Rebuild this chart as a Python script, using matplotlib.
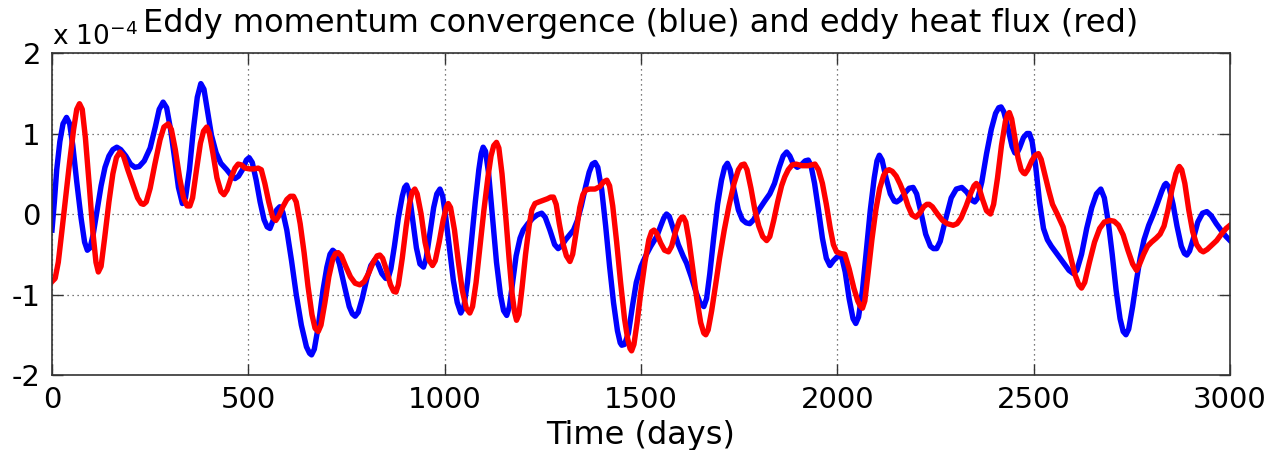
#!/usr/bin/env python3
"""Eddy momentum convergence vs eddy heat flux time series (MATLAB-style figure)."""

import matplotlib
matplotlib.use("Agg")
import matplotlib.pyplot as plt

# values in units of 1e-4
blue_days = [0, 6, 12, 20, 28, 37, 45, 53, 63, 74, 83, 90, 97, 105, 115, 125, 135, 145,
             155, 165, 175, 188, 200, 211, 222, 235, 250, 263, 273, 283, 292, 302, 312,
             322, 332, 340, 350, 360, 370, 379, 387, 396, 406, 418, 430, 445, 458, 466,
             475, 485, 495, 502, 510, 520, 530, 540, 548, 555, 563, 572, 580, 588, 598,
             610, 622, 635, 648, 656, 661, 668, 678, 690, 700, 708, 715, 722, 732, 745,
             757, 765, 772, 780, 790, 802, 812, 822, 830, 840, 850, 856, 863, 872, 882,
             892, 898, 903, 909, 918, 928, 937, 946, 953, 962, 972, 980, 988, 995, 1003,
             1012, 1022, 1032, 1041, 1049, 1058, 1068, 1078, 1087, 1093, 1098, 1104,
             1112, 1122, 1132, 1142, 1150, 1158, 1165, 1173, 1182, 1192, 1200, 1212,
             1225, 1236, 1247, 1256, 1268, 1280, 1289, 1297, 1308, 1318, 1328, 1338,
             1348, 1358, 1368, 1376, 1383, 1390, 1400, 1410, 1420, 1430, 1440, 1447,
             1451, 1458, 1468, 1478, 1488, 1500, 1512, 1525, 1540, 1550, 1558, 1565,
             1572, 1582, 1595, 1608, 1616, 1628, 1640, 1650, 1660, 1667, 1675, 1685,
             1695, 1705, 1713, 1720, 1727, 1737, 1748, 1758, 1768, 1777, 1787, 1800,
             1815, 1828, 1840, 1852, 1862, 1871, 1879, 1888, 1898, 1908, 1918, 1926,
             1933, 1942, 1952, 1962, 1972, 1981, 1990, 2000, 2011, 2020, 2030, 2040,
             2047, 2054, 2064, 2074, 2084, 2094, 2101, 2107, 2114, 2124, 2135, 2145,
             2151, 2160, 2172, 2183, 2193, 2202, 2213, 2225, 2237, 2245, 2253, 2262,
             2275, 2290, 2303, 2317, 2330, 2343, 2350, 2358, 2368, 2380, 2392, 2403,
             2411, 2417, 2424, 2434, 2445, 2452, 2457, 2464, 2474, 2483, 2489, 2496,
             2505, 2515, 2525, 2535, 2545, 2560, 2575, 2590, 2601, 2610, 2622, 2635,
             2648, 2660, 2671, 2680, 2690, 2700, 2710, 2720, 2728, 2735, 2742, 2752,
             2762, 2771, 2781, 2793, 2805, 2815, 2826, 2833, 2837, 2845, 2855, 2865,
             2876, 2884, 2890, 2897, 2907, 2918, 2930, 2941, 2952, 2965, 2980, 2990, 3000]
blue_vals = [-0.20, 0.15, 0.55, 0.90, 1.12, 1.20, 1.12, 0.85, 0.40, -0.05, -0.35, -0.45,
             -0.42, -0.25, 0.05, 0.35, 0.58, 0.72, 0.80, 0.83, 0.80, 0.72, 0.62, 0.58,
             0.59, 0.66, 0.82, 1.08, 1.30, 1.39, 1.32, 1.05, 0.70, 0.33, 0.13, 0.20,
             0.55, 1.05, 1.45, 1.62, 1.55, 1.28, 0.98, 0.76, 0.63, 0.55, 0.47, 0.44,
             0.47, 0.55, 0.67, 0.70, 0.64, 0.42, 0.15, -0.07, -0.16, -0.18, -0.08,
             0.05, 0.09, 0.02, -0.20, -0.58, -1.00, -1.38, -1.65, -1.73, -1.75, -1.68,
             -1.40, -0.95, -0.66, -0.50, -0.45, -0.48, -0.62, -0.90, -1.15, -1.24,
             -1.27, -1.22, -1.05, -0.80, -0.64, -0.57, -0.62, -0.74, -0.80, -0.80,
             -0.68, -0.40, -0.05, 0.22, 0.33, 0.36, 0.28, -0.05, -0.42, -0.62, -0.66,
             -0.55, -0.25, 0.08, 0.25, 0.31, 0.22, -0.05, -0.42, -0.82, -1.10, -1.23,
             -1.15, -0.85, -0.35, 0.15, 0.55, 0.75, 0.83, 0.78, 0.50, -0.05, -0.60,
             -1.00, -1.20, -1.26, -1.15, -0.85, -0.52, -0.30, -0.20, -0.12, -0.05,
             -0.01, 0.01, -0.04, -0.20, -0.38, -0.43, -0.40, -0.32, -0.26, -0.20,
             -0.08, 0.10, 0.32, 0.52, 0.62, 0.64, 0.58, 0.30, -0.15, -0.65, -1.10,
             -1.45, -1.60, -1.63, -1.62, -1.48, -1.15, -0.85, -0.65, -0.52, -0.40,
             -0.28, -0.15, -0.05, 0.00, -0.03, -0.18, -0.38, -0.53, -0.61, -0.78,
             -0.97, -1.10, -1.15, -1.05, -0.75, -0.30, 0.12, 0.42, 0.58, 0.63, 0.55,
             0.30, 0.05, -0.07, -0.11, -0.12, -0.07, 0.05, 0.16, 0.25, 0.38, 0.58,
             0.72, 0.77, 0.72, 0.62, 0.58, 0.61, 0.66, 0.67, 0.60, 0.38, 0.05, -0.30,
             -0.55, -0.64, -0.58, -0.53, -0.53, -0.72, -1.05, -1.30, -1.36, -1.28,
             -0.95, -0.45, 0.05, 0.45, 0.66, 0.73, 0.67, 0.45, 0.25, 0.16, 0.15, 0.18,
             0.26, 0.32, 0.33, 0.25, 0.02, -0.25, -0.40, -0.43, -0.43, -0.34, -0.08,
             0.20, 0.31, 0.33, 0.27, 0.17, 0.15, 0.20, 0.40, 0.75, 1.05, 1.25, 1.32,
             1.33, 1.27, 1.08, 0.84, 0.76, 0.75, 0.82, 0.95, 1.00, 1.00, 0.90, 0.60,
             0.15, -0.18, -0.32, -0.40, -0.50, -0.60, -0.70, -0.74, -0.70, -0.50,
             -0.18, 0.08, 0.25, 0.31, 0.20, -0.10, -0.50, -0.95, -1.30, -1.46, -1.50,
             -1.43, -1.15, -0.82, -0.55, -0.32, -0.14, 0.00, 0.13, 0.28, 0.36, 0.38,
             0.33, 0.12, -0.15, -0.40, -0.49, -0.51, -0.46, -0.30, -0.10, 0.01, 0.03,
             -0.02, -0.12, -0.22, -0.28, -0.33]

red_days = [0, 8, 16, 25, 35, 45, 55, 63, 70, 77, 85, 95, 104, 112, 118, 125, 134, 145,
            155, 164, 173, 182, 193, 205, 218, 227, 233, 240, 250, 262, 275, 285, 296,
            304, 314, 325, 335, 344, 351, 358, 368, 378, 386, 394, 401, 410, 420, 430,
            438, 446, 456, 466, 474, 482, 492, 504, 515, 525, 533, 542, 552, 562, 570,
            578, 588, 598, 607, 615, 622, 632, 642, 652, 662, 670, 678, 685, 695, 705,
            715, 722, 729, 737, 748, 760, 772, 784, 795, 806, 818, 828, 835, 842, 852,
            862, 870, 876, 882, 892, 902, 910, 917, 924, 930, 940, 950, 960, 969, 976,
            986, 996, 1004, 1009, 1015, 1025, 1035, 1045, 1055, 1064, 1071, 1080, 1090,
            1100, 1110, 1118, 1125, 1132, 1138, 1146, 1155, 1164, 1172, 1178, 1183,
            1189, 1197, 1206, 1215, 1222, 1230, 1240, 1251, 1262, 1270, 1277, 1284,
            1292, 1302, 1310, 1319, 1326, 1335, 1344, 1352, 1360, 1370, 1383, 1395,
            1405, 1413, 1420, 1428, 1438, 1448, 1458, 1466, 1472, 1476, 1482, 1490,
            1500, 1510, 1520, 1527, 1533, 1540, 1550, 1560, 1570, 1578, 1588, 1598,
            1604, 1608, 1614, 1622, 1632, 1642, 1652, 1660, 1665, 1671, 1680, 1690,
            1700, 1712, 1724, 1737, 1748, 1756, 1763, 1770, 1780, 1790, 1800, 1810,
            1820, 1828, 1838, 1848, 1858, 1866, 1875, 1885, 1895, 1910, 1925, 1935,
            1943, 1952, 1962, 1972, 1982, 1990, 1998, 2008, 2019, 2030, 2042, 2052,
            2058, 2064, 2070, 2078, 2088, 2098, 2108, 2118, 2126, 2132, 2140, 2150,
            2160, 2170, 2180, 2190, 2200, 2210, 2220, 2228, 2234, 2242, 2255, 2268,
            2280, 2295, 2305, 2315, 2328, 2340, 2348, 2354, 2360, 2370, 2380, 2390,
            2398, 2408, 2418, 2428, 2434, 2438, 2444, 2452, 2460, 2468, 2474, 2478,
            2485, 2495, 2504, 2512, 2519, 2528, 2538, 2548, 2560, 2575, 2590, 2605,
            2615, 2622, 2630, 2642, 2655, 2668, 2680, 2694, 2705, 2716, 2728, 2740,
            2752, 2762, 2770, 2780, 2790, 2800, 2812, 2822, 2832, 2842, 2852, 2862,
            2868, 2871, 2877, 2885, 2895, 2905, 2915, 2925, 2932, 2942, 2955, 2966,
            2978, 2990, 3000]
red_vals = [-0.84, -0.80, -0.60, -0.22, 0.22, 0.65, 1.05, 1.30, 1.37, 1.30, 0.95, 0.35,
            -0.22, -0.60, -0.72, -0.65, -0.30, 0.15, 0.50, 0.70, 0.77, 0.72, 0.55,
            0.38, 0.20, 0.13, 0.12, 0.15, 0.32, 0.62, 0.92, 1.08, 1.12, 1.05, 0.80,
            0.45, 0.20, 0.10, 0.10, 0.20, 0.55, 0.88, 1.03, 1.08, 1.00, 0.75, 0.45,
            0.28, 0.24, 0.30, 0.45, 0.57, 0.62, 0.61, 0.57, 0.56, 0.56, 0.57, 0.55,
            0.38, 0.15, -0.04, -0.08, -0.02, 0.09, 0.18, 0.22, 0.22, 0.15, -0.12,
            -0.48, -0.90, -1.25, -1.42, -1.46, -1.38, -1.10, -0.78, -0.56, -0.49,
            -0.48, -0.52, -0.65, -0.78, -0.86, -0.88, -0.84, -0.74, -0.60, -0.52,
            -0.51, -0.55, -0.70, -0.88, -0.96, -0.97, -0.88, -0.55, -0.15, 0.12, 0.27,
            0.31, 0.25, 0.00, -0.35, -0.57, -0.64, -0.58, -0.35, -0.08, 0.08, 0.13,
            0.08, -0.20, -0.60, -0.95, -1.17, -1.23, -1.15, -0.85, -0.40, 0.05, 0.45,
            0.72, 0.85, 0.89, 0.82, 0.50, 0.00, -0.55, -1.00, -1.22, -1.32, -1.25,
            -0.92, -0.50, -0.15, 0.05, 0.13, 0.15, 0.17, 0.19, 0.21, 0.21, 0.12,
            -0.12, -0.38, -0.52, -0.59, -0.50, -0.22, 0.08, 0.24, 0.30, 0.31, 0.31,
            0.34, 0.40, 0.42, 0.35, 0.10, -0.35, -0.85, -1.30, -1.55, -1.67, -1.70,
            -1.62, -1.35, -0.95, -0.60, -0.32, -0.22, -0.20, -0.24, -0.36, -0.45,
            -0.47, -0.40, -0.22, -0.08, -0.04, -0.04, -0.10, -0.32, -0.68, -1.05,
            -1.35, -1.48, -1.50, -1.44, -1.20, -0.88, -0.55, -0.20, 0.10, 0.38, 0.55,
            0.61, 0.62, 0.55, 0.32, 0.05, -0.15, -0.28, -0.33, -0.28, -0.08, 0.15,
            0.35, 0.46, 0.55, 0.61, 0.62, 0.60, 0.60, 0.61, 0.62, 0.55, 0.38, 0.12,
            -0.18, -0.38, -0.47, -0.49, -0.50, -0.68, -0.92, -1.08, -1.14, -1.17,
            -1.08, -0.75, -0.32, 0.05, 0.32, 0.48, 0.54, 0.55, 0.53, 0.47, 0.37, 0.25,
            0.10, -0.01, -0.04, 0.01, 0.09, 0.12, 0.12, 0.09, 0.00, -0.08, -0.12,
            -0.14, -0.12, -0.05, 0.10, 0.26, 0.35, 0.38, 0.34, 0.18, 0.04, 0.00, 0.12,
            0.45, 0.85, 1.15, 1.24, 1.26, 1.18, 0.95, 0.70, 0.55, 0.51, 0.50, 0.55,
            0.66, 0.73, 0.75, 0.68, 0.50, 0.30, 0.12, 0.00, -0.16, -0.45, -0.75,
            -0.88, -0.92, -0.85, -0.60, -0.35, -0.18, -0.10, -0.08, -0.09, -0.14,
            -0.26, -0.45, -0.62, -0.70, -0.62, -0.50, -0.40, -0.35, -0.30, -0.25,
            -0.15, 0.05, 0.30, 0.50, 0.57, 0.59, 0.55, 0.38, 0.05, -0.22, -0.38,
            -0.45, -0.47, -0.44, -0.38, -0.33, -0.25, -0.18, -0.14]

x_ticks = [0, 500, 1000, 1500, 2000, 2500, 3000]
y_ticks = [-2, -1, 0, 1, 2]

plt.rcParams['font.family'] = ['DejaVu Sans']
plt.rcParams['axes.unicode_minus'] = False
plt.rcParams['mathtext.default'] = 'regular'

fig = plt.figure(figsize=(12.73, 4.5), dpi=100)
ax = fig.add_axes([52 / 1273, 1 - 375 / 450, (1230 - 52) / 1273, (375 - 53) / 450])

ax.plot(blue_days, blue_vals, color=(0, 0, 1), lw=3.9, solid_joinstyle='round')
ax.plot(red_days, red_vals, color=(1, 0, 0), lw=3.9, solid_joinstyle='round')

ax.set_xlim(0, 3000)
ax.set_ylim(-2, 2)
ax.set_xticks(x_ticks)
ax.set_yticks(y_ticks)
ax.set_xticklabels([str(t) for t in x_ticks])
ax.set_yticklabels([str(t) for t in y_ticks])
ax.tick_params(direction='in', length=8, width=1.0, labelsize=21, color='0.2',
               top=True, right=True, pad=8)
ax.grid(True, linestyle=(0, (1, 3)), color='0.3', lw=0.9)
for s in ax.spines.values():
    s.set_linewidth(1.2)
    s.set_color('0.2')

ax.set_xlabel("Time (days)", fontsize=23, labelpad=4)
ax.set_title("Eddy momentum convergence (blue) and eddy heat flux (red)",
             fontsize=23, pad=15)
# MATLAB-style exponent above the y axis
ax.annotate(r"x 10$^{-4}$", xy=(0, 1), xycoords='axes fraction', xytext=(0, 6),
            textcoords='offset points', fontsize=19, ha='left', va='baseline')

fig.savefig("out.png", dpi=100)
